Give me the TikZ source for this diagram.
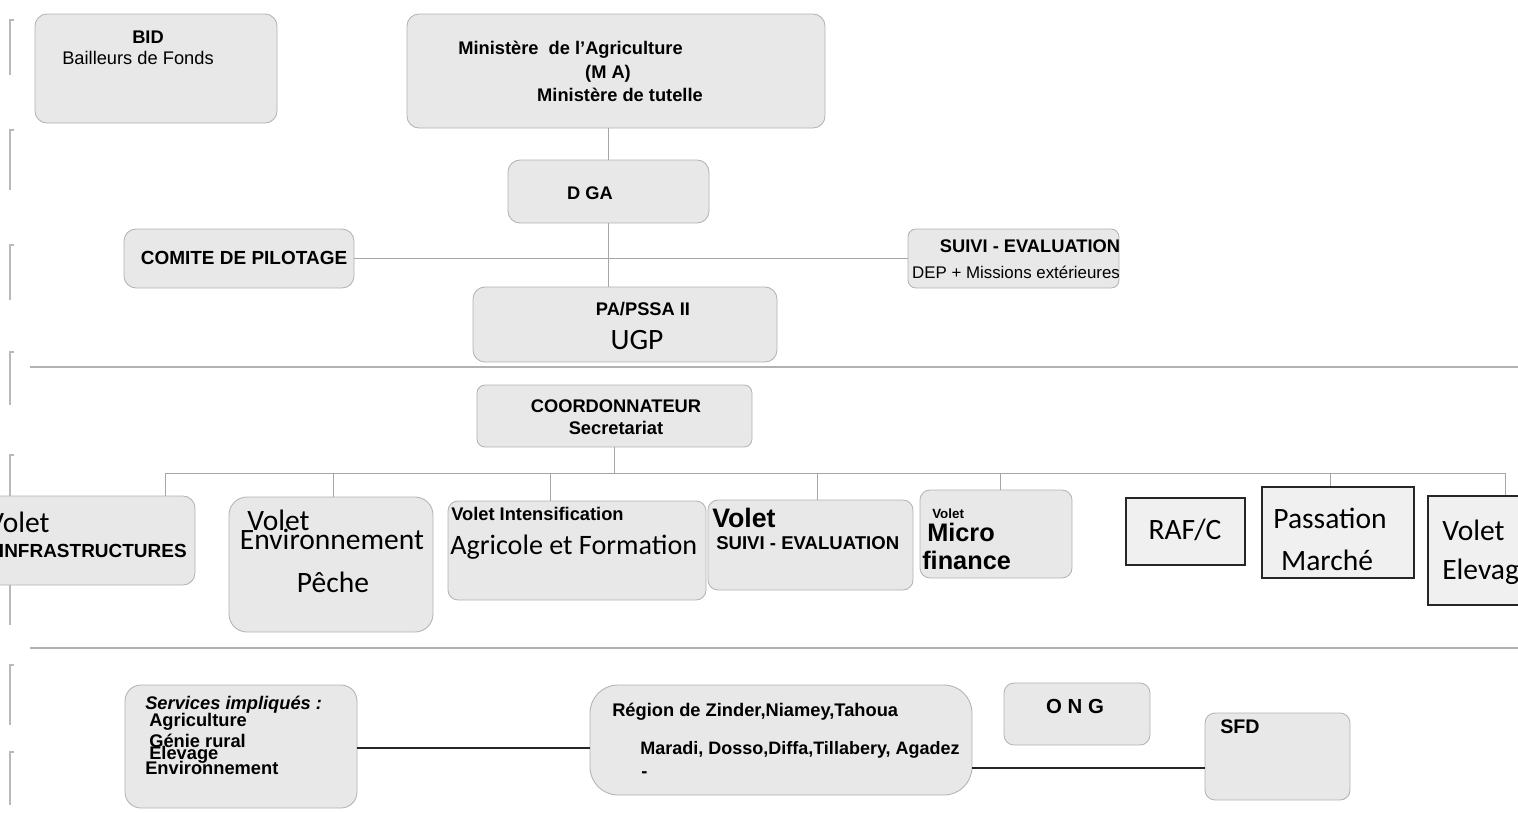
\documentclass[tikz,border=0pt]{standalone}
\usepackage{fontspec}
\setmainfont{Liberation Sans}
\newfontfamily\calibri{Carlito}
\usetikzlibrary{positioning,fit,calc}

\begin{document}
\begin{tikzpicture}[x=0.025cm, y=-0.025cm,
    box/.style={draw=gray!60, fill=gray!18, rounded corners=0.3cm, inner sep=0pt, line width=0.6pt},
    sqbox/.style={draw=black!85, fill=gray!12, inner sep=0pt, line width=1.3pt},
    link/.style={gray!70, line width=0.6pt},
    heavy/.style={black!85, line width=1.2pt},
    scan/.style={gray!55, line width=1pt},
    lbl/.style={font=\bfseries\fontsize{13}{15}\selectfont, inner sep=0pt},
    big/.style={font=\calibri\fontsize{21}{24}\selectfont, inner sep=0pt}
]
    \useasboundingbox (0,0) rectangle (1518,812);
    \clip (0,0) rectangle (1518,812);

    % scan marks on the left
    \foreach \ya/\yb in {20/75, 130/190, 245/300, 352/405, 455/505, 580/625, 665/725, 752/805}
        \draw[scan] (14,\ya) -- (10,\ya) -- (10,\yb);

    % Top level
    \node[box, fit={(35,14) (277,123)}] (bid) {};
    \node[lbl] (bidt) at (148,37) {BID};
    \node[lbl, font=\fontsize{13}{15}\selectfont, anchor=west] (bidf) at (62,58) {Bailleurs de Fonds};

    \node[box, fit={(407,14) (825,128)}] (ma) {};
    \node[lbl, anchor=west] (ma1) at (458,50) {Ministère~ de l’Agriculture};
    \node[lbl] (ma2) at (608,74) {(M A)};
    \node[lbl] (ma3) at (620,95) {Ministère de tutelle};

    \node[box, fit={(508,160) (709,223)}] (dga) {};
    \node[lbl] (dgat) at (590,193) {D GA};

    \node[box, fit={(124,229) (354,288)}] (comite) {};
    \node[lbl, font=\bfseries\fontsize{13.5}{15}\selectfont] (comitet) at (244,258) {COMITE DE PILOTAGE};

    \node[box, rounded corners=0.2cm, fit={(908,229) (1119,288)}] (suivi) {};
    \node[lbl] (suivi1) at (1030,246) {SUIVI - EVALUATION};
    \node[lbl, font=\fontsize{12}{14}\selectfont] (suivi2) at (1016,272) {DEP + Missions extérieures};

    \node[box, fit={(473,287) (777,362)}] (pa) {};
    \node[lbl] (pa1) at (643,309) {PA/PSSA II};
    \node[big] (pa2) at (637,340) {UGP};

    % Links top
    \draw[link] (ma.south -| dga.north) -- (dga.north);
    \draw[link] (dga.south) -- (dga.south |- pa.north);
    \draw[link] (comite.east) -- (suivi.west);

    % separators
    \draw[gray!60, line width=0.8pt] (30,367) -- (1518,367);
    \draw[gray!60, line width=0.8pt] (30,648) -- (1518,648);

    % Coordination
    \node[box, rounded corners=0.2cm, fit={(477,385) (752,447)}] (coord) {};
    \node[lbl] (coord1) at (616,406) {COORDONNATEUR};
    \node[lbl] (coord2) at (616,428) {Secretariat};

    % Volets
    \node[box, fit={(-30,496) (195,585)}] (infra) {};
    \node[big, anchor=west] (infra1) at (-13,522) {Volet};
    \node[lbl, font=\bfseries\fontsize{13.5}{15}\selectfont, anchor=east] (infra2) at (187,551) {INFRASTRUCTURES};

    \node[box, rounded corners=0.45cm, fit={(229,497) (433,632)}] (env) {};
    \node[big, anchor=west] (env1) at (247,520) {Volet};
    \node[big] (env2) at (332,539) {Environnement};
    \node[big] (env3) at (333,582) {Pêche};

    \node[box, rounded corners=0.25cm, fit={(448,501) (706,600)}] (intens) {};
    \node[lbl, anchor=west] (intens1) at (451,514) {Volet Intensification};
    \node[big, font=\calibri\fontsize{20}{24}\selectfont, anchor=west] (intens2) at (450,547) {Agricole et Formation};

    \node[box, rounded corners=0.25cm, fit={(708,500) (913,590)}] (vsuivi) {};
    \node[lbl, font=\bfseries\fontsize{19}{21}\selectfont, anchor=west] (vsuivi1) at (712,518) {Volet};
    \node[lbl, font=\bfseries\fontsize{13.2}{15}\selectfont, anchor=west] (vsuivi2) at (716,543) {SUIVI - EVALUATION};

    \node[box, rounded corners=0.25cm, fit={(920,490) (1072,578)}] (micro) {};
    \node[lbl, font=\bfseries\fontsize{9.5}{10}\selectfont, anchor=west] (micro1) at (932,514) {Volet};
    \node[lbl, font=\bfseries\fontsize{18}{20}\selectfont, anchor=west] (micro2) at (927,532) {Micro};
    \node[lbl, font=\bfseries\fontsize{18}{20}\selectfont, anchor=west] (micro3) at (922,560) {finance};

    \node[sqbox, fit={(1126,498) (1245,565)}] (raf) {};
    \node[big] (raft) at (1185,530) {RAF/C};

    \node[sqbox, fit={(1262,487) (1414,578)}] (pass) {};
    \node[big] (pass1) at (1330,518) {Passation};
    \node[big] (pass2) at (1327,560) {Marché};

    \node[sqbox, fit={(1428,496) (1535,605)}] (elev) {};
    \node[big, anchor=west] (elev1) at (1442,530) {Volet};
    \node[big, anchor=west] (elev2) at (1442,572) {Elevage};

    % bus from the coordinator
    \coordinate (bl) at (165,473);
    \coordinate (br) at (1505,473);
    \draw[link] (coord.south) -- (coord.south |- bl);
    \draw[link] (bl) -- (br);
    \foreach \xx/\tgt in {165/infra, 333/env, 550/intens, 817/vsuivi, 1000/micro, 1330/pass, 1505/elev}
        \draw[link] (\xx,473) -- (\xx,473 |- \tgt.north);

    % Bottom level
    \node[box, rounded corners=0.4cm, fit={(125,685) (357,808)}] (serv) {};
    \node[lbl, font=\bfseries\itshape\fontsize{13}{15}\selectfont, anchor=west] (serv0) at (145,705) {Services impliqués :};
    \node[lbl, anchor=west] (serv1) at (149,722) {Agriculture};
    \node[lbl, anchor=west] (serv2) at (149,741) {Génie rural};
    \node[lbl, anchor=west] (serv3) at (149,755) {Elevage};
    \node[lbl, anchor=west] (serv4) at (145,768) {Environnement};

    \node[box, rounded corners=0.7cm, fit={(590,685) (972,795)}] (region) {};
    \node[lbl, anchor=west] (reg1) at (612,712) {Région de Zinder,Niamey,Tahoua};
    \node[lbl, font=\bfseries\fontsize{12.8}{14}\selectfont, anchor=west] (reg2) at (640,750) {Maradi, Dosso,Diffa,Tillabery, Agadez};
    \node[lbl, anchor=west] (reg3) at (641,775) {-};

    \node[box, rounded corners=0.25cm, fit={(1004,683) (1150,745)}] (ong) {};
    \node[lbl, font=\bfseries\fontsize{14.5}{16}\selectfont] (ongt) at (1075,706) {O N G};

    \node[box, rounded corners=0.25cm, fit={(1205,713) (1350,800)}] (sfd) {};
    \node[lbl, font=\bfseries\fontsize{14}{16}\selectfont, anchor=west] (sfdt) at (1220,727) {SFD};

    \coordinate (sr) at (357,748);
    \coordinate (rs) at (972,768);
    \draw[heavy] (sr) -- (sr -| region.west);
    \draw[heavy] (rs) -- (rs -| sfd.west);
\end{tikzpicture}
\end{document}
